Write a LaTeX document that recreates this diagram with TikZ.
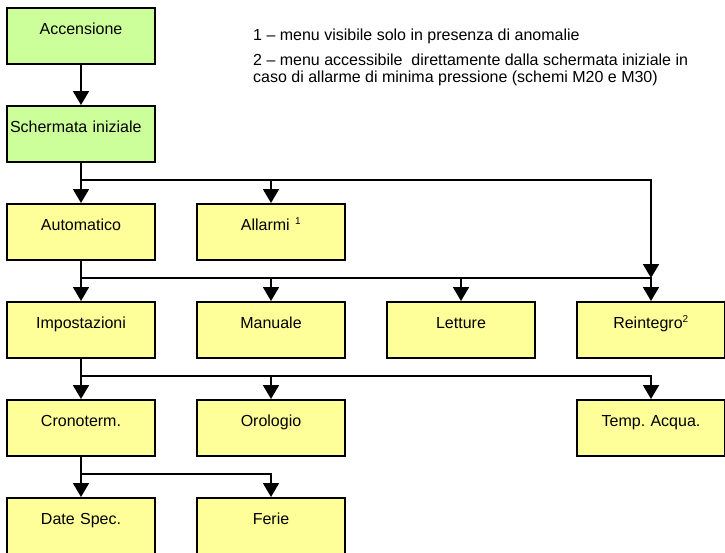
\documentclass[tikz,border=0pt]{standalone}
\usepackage{fontspec}
\setmainfont{Liberation Sans}
\usetikzlibrary{arrows.meta}
\frenchspacing

\definecolor{startgreen}{RGB}{204,255,153}
\definecolor{menuyellow}{RGB}{255,255,153}

\tikzstyle{menu} = [draw=black, fill=menuyellow, line width=2pt, rectangle,
  minimum height=56pt, text width=142pt, inner xsep=3pt, align=center,
  text height=12pt, text depth=14.6pt]
\tikzstyle{startmenu} = [menu, fill=startgreen]
\tikzstyle{note} = [inner sep=0pt, align=left]
\tikzstyle{link} = [draw=black, line width=1.8pt]
\tikzstyle{linkarrow} = [link, -{Triangle[length=14pt,width=16pt]}]

\begin{document}
\begin{tikzpicture}[x=1pt,y=-1pt,font=\fontsize{16}{19}\selectfont]
        \useasboundingbox (0,0) rectangle (725,552);
        \clip (0,0) rectangle (725,552);

        \node [startmenu]            (accensione)   at ( 81, 36) {Accensione};
        \node [startmenu,align=left] (schermata)    at ( 81,134) {Schermata iniziale};
        \node [menu]                 (automatico)   at ( 81,232) {Automatico};
        \node [menu]                 (allarmi)      at (271,232) {Allarmi \textsuperscript{\fontsize{10}{10}\selectfont 1}};
        \node [menu]                 (impostazioni) at ( 81,330) {Impostazioni};
        \node [menu]                 (manuale)      at (271,330) {Manuale};
        \node [menu]                 (letture)      at (461,330) {Letture};
        \node [menu]                 (reintegro)    at (651,330) {Reintegro\textsuperscript{\fontsize{10}{10}\selectfont 2}};
        \node [menu]                 (cronoterm)    at ( 81,428) {Cronoterm.};
        \node [menu]                 (orologio)     at (271,428) {Orologio};
        \node [menu]                 (tempacqua)    at (651,428) {Temp. Acqua.};
        \node [menu]                 (datespec)     at ( 81,526) {Date Spec.};
        \node [menu]                 (ferie)        at (271,526) {Ferie};

        \node [note,anchor=base west] (nota1) at (253,40)
          {1 -- menu visibile solo in presenza di anomalie};
        \node [note,anchor=north west,font=\fontsize{16}{17}\selectfont] (nota2) at (253,54)
          {2 -- menu accessibile\ \ direttamente dalla schermata iniziale in\\
           caso di allarme di minima pressione (schemi M20 e M30)};

        \coordinate (bus1) at (81,180);
        \coordinate (bus2) at (81,278);
        \coordinate (bus3) at (81,376);
        \coordinate (bus4) at (81,474);

        \draw[linkarrow] (accensione.south) -- (schermata.north);

        \draw[link]      (schermata.south) -- (bus1);
        \draw[linkarrow] (bus1) -- (automatico.north);
        \draw[linkarrow] (bus1) -| (allarmi.north);
        \draw[linkarrow] (bus1) -| (reintegro.north |- bus2);

        \draw[link]      (automatico.south) -- (bus2);
        \draw[linkarrow] (bus2) -- (impostazioni.north);
        \draw[linkarrow] (bus2) -| (manuale.north);
        \draw[linkarrow] (bus2) -| (letture.north);
        \draw[linkarrow] (bus2) -| (reintegro.north);

        \draw[link]      (impostazioni.south) -- (bus3);
        \draw[linkarrow] (bus3) -- (cronoterm.north);
        \draw[linkarrow] (bus3) -| (orologio.north);
        \draw[linkarrow] (bus3) -| (tempacqua.north);

        \draw[link]      (cronoterm.south) -- (bus4);
        \draw[linkarrow] (bus4) -- (datespec.north);
        \draw[linkarrow] (bus4) -| (ferie.north);
      \end{tikzpicture}
\end{document}
